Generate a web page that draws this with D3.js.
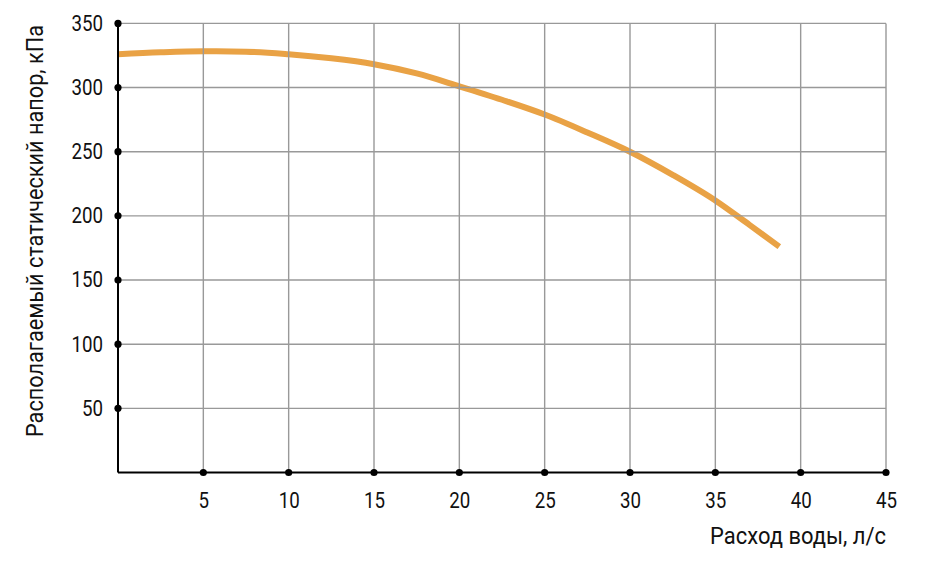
<!DOCTYPE html>
<html><head><meta charset="utf-8">
<script src="https://cdn.jsdelivr.net/npm/d3@7"></script>
<style>html,body{margin:0;padding:0;background:#fff}svg{display:block}text{font-family:Roboto,"DejaVu Sans",sans-serif;fill:#111}</style>
</head><body>
<script>
const flow = [0, 2.5, 5, 7.5, 10, 12.5, 15, 17.5, 20, 22.5, 25, 27.5, 30, 32.5, 35, 37, 38.75];
const pressure = [326, 327.5, 328.3, 328, 326, 322.8, 318.2, 311, 301, 290.5, 279, 265, 250, 232, 212, 193, 176];
const xTicks = [5, 10, 15, 20, 25, 30, 35, 40, 45];
const yTicks = [50, 100, 150, 200, 250, 300, 350];
const xTitle = "Расход воды, л/с";
const yTitle = "Располагаемый статический напор, кПа";

const W = 946, H = 568;
const svg = d3.select("body").append("svg").attr("width", W).attr("height", H);
const x = d3.scaleLinear().domain([0, 45]).range([118, 886]);
const y = d3.scaleLinear().domain([0, 350]).range([472.5, 23.4]);

const data = flow.map((f, i) => ({f, p: pressure[i]}));
svg.append("path").datum(data)
  .attr("fill", "none").attr("stroke", "#E9A245").attr("stroke-width", 6)
  .attr("d", d3.line().x(d => x(d.f)).y(d => y(d.p)).curve(d3.curveMonotoneX));

const g = svg.append("g");
g.selectAll(".vg").data(xTicks).join("line")
  .attr("x1", d => x(d)).attr("x2", d => x(d)).attr("y1", y(350)).attr("y2", y(0))
  .attr("stroke", "#999").attr("stroke-width", 1.4);
g.selectAll(".hg").data(yTicks).join("line")
  .attr("x1", x(0)).attr("x2", x(45)).attr("y1", d => y(d)).attr("y2", d => y(d))
  .attr("stroke", "#999").attr("stroke-width", 1.4);

const xAxis = d3.axisBottom(x).tickValues(xTicks).tickSize(0).tickPadding(20);
const yAxis = d3.axisLeft(y).tickValues(yTicks).tickSize(0).tickPadding(15);
const gx = svg.append("g").attr("transform", `translate(0,${y(0)})`).call(xAxis);
const gy = svg.append("g").attr("transform", `translate(${x(0)},0)`).call(yAxis);
[gx, gy].forEach(a => {
  a.select(".domain").remove();
  a.selectAll("text").attr("font-family", "Roboto, sans-serif").attr("font-size", 21.5).attr("fill", "#111")
    .each(function() {
      const L = this.getComputedTextLength();
      d3.select(this).attr("textLength", L * 0.87).attr("lengthAdjust", "spacingAndGlyphs");
    });
});
gx.selectAll("text").attr("dy", "0.71em");
svg.append("line").attr("x1", x(0)).attr("x2", x(45)).attr("y1", y(0)).attr("y2", y(0)).attr("stroke", "#000").attr("stroke-width", 2);
svg.append("line").attr("x1", x(0)).attr("x2", x(0)).attr("y1", y(350)).attr("y2", y(0)).attr("stroke", "#000").attr("stroke-width", 2);

svg.selectAll(".xd").data(xTicks).join("circle").attr("cx", d => x(d)).attr("cy", y(0)).attr("r", 3.6).attr("fill", "#000");
svg.selectAll(".yd").data(yTicks).join("circle").attr("cx", x(0)).attr("cy", d => y(d)).attr("r", 3.6).attr("fill", "#000");

function fitText(sel, target) {
  const L = sel.node().getComputedTextLength();
  return target / L;
}
const xt = svg.append("text").attr("text-anchor", "end").attr("font-size", 23.5).text(xTitle);
xt.attr("transform", `translate(886,544) scale(${fitText(xt, 176)},1)`);
const yt = svg.append("text").attr("text-anchor", "middle").attr("font-size", 23.5).text(yTitle);
yt.attr("transform", `translate(43,231) rotate(-90) scale(${fitText(yt, 412)},1)`);
</script>
</body></html>
